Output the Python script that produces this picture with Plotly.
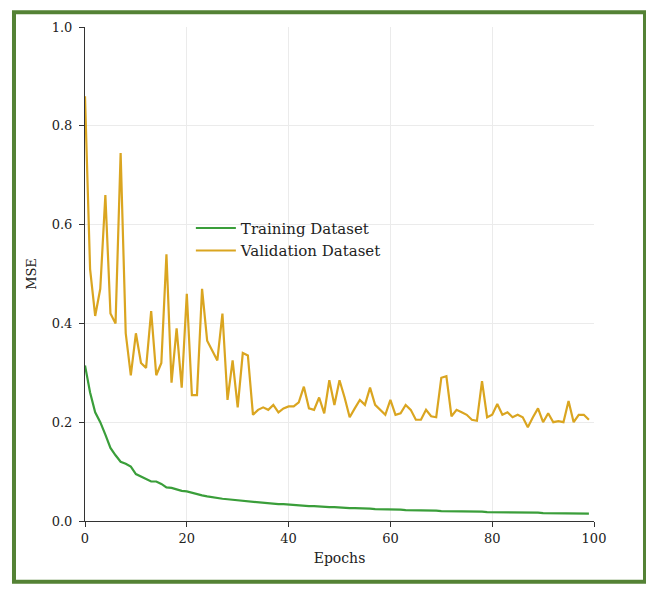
import plotly.graph_objects as go

epochs = list(range(100))
train_mse = [0.315, 0.26, 0.22, 0.2, 0.175, 0.148, 0.133, 0.12, 0.116, 0.11,
             0.095, 0.09, 0.086, 0.08, 0.08, 0.075, 0.068, 0.067, 0.064, 0.061,
             0.06, 0.057, 0.055, 0.052, 0.05, 0.048, 0.047, 0.045, 0.044, 0.043,
             0.042, 0.04, 0.039, 0.038, 0.037, 0.037, 0.036, 0.035, 0.034, 0.034,
             0.033, 0.032, 0.031, 0.031, 0.030, 0.030, 0.029, 0.029, 0.028, 0.028,
             0.027, 0.027, 0.026, 0.026, 0.026, 0.025, 0.025, 0.024, 0.024, 0.024,
             0.023, 0.023, 0.023, 0.022, 0.022, 0.022, 0.021, 0.021, 0.021, 0.021,
             0.020, 0.020, 0.020, 0.020, 0.019, 0.019, 0.019, 0.019, 0.019, 0.018,
             0.018, 0.018, 0.018, 0.018, 0.017, 0.017, 0.017, 0.017, 0.017, 0.017,
             0.016, 0.016, 0.016, 0.016, 0.016, 0.016, 0.016, 0.015, 0.015, 0.015]
val_mse = [0.86, 0.51, 0.415, 0.47, 0.66, 0.42, 0.40, 0.745, 0.38, 0.295,
           0.38, 0.32, 0.31, 0.425, 0.295, 0.32, 0.54, 0.28, 0.39, 0.27,
           0.46, 0.255, 0.255, 0.47, 0.365, 0.345, 0.325, 0.42, 0.245, 0.325,
           0.23, 0.34, 0.335, 0.215, 0.225, 0.23, 0.225, 0.235, 0.22, 0.228,
           0.232, 0.232, 0.24, 0.272, 0.228, 0.225, 0.25, 0.218, 0.285, 0.235,
           0.285, 0.25, 0.21, 0.228, 0.245, 0.235, 0.27, 0.235, 0.225, 0.215,
           0.245, 0.215, 0.218, 0.235, 0.225, 0.205, 0.205, 0.225, 0.212, 0.21,
           0.29, 0.293, 0.212, 0.225, 0.22, 0.215, 0.205, 0.203, 0.283, 0.21,
           0.215, 0.237, 0.215, 0.22, 0.21, 0.215, 0.21, 0.19, 0.21, 0.228,
           0.2, 0.218, 0.2, 0.202, 0.2, 0.243, 0.2, 0.215, 0.215, 0.205]

FONT = "DejaVu Serif"
TXT = "#222222"

fig = go.Figure()
fig.add_trace(go.Scatter(x=epochs, y=train_mse, mode="lines", name="Training Dataset",
                         line=dict(color="#3a9e3a", width=2.2)))
fig.add_trace(go.Scatter(x=epochs, y=val_mse, mode="lines", name="Validation Dataset",
                         line=dict(color="#DAA520", width=2.2)))

fig.update_layout(
    width=646, height=581,
    margin=dict(l=77, r=60, t=17, b=68),
    paper_bgcolor="white", plot_bgcolor="white",
    font=dict(family=FONT, size=13, color=TXT),
    showlegend=True,
    legend=dict(x=0.208, y=0.626, xanchor="left", yanchor="top",
                bgcolor="rgba(0,0,0,0)", font=dict(family=FONT, size=15, color=TXT),
                itemwidth=40, tracegroupgap=0),
    xaxis=dict(range=[0, 100], tickvals=[0, 20, 40, 60, 80, 100],
               title=dict(text="Epochs", font=dict(family=FONT, size=14, color=TXT), standoff=8),
               showline=True, linecolor="#333333", linewidth=1,
               ticks="outside", ticklen=5, tickcolor="#333333",
               tickfont=dict(family=FONT, size=13, color=TXT),
               showgrid=True, gridcolor="#ebebeb", zeroline=False),
    yaxis=dict(range=[0, 1.0], tickvals=[0, 0.2, 0.4, 0.6, 0.8, 1.0],
               ticktext=["0.0", "0.2", "0.4", "0.6", "0.8", "1.0"],
               title=dict(text="MSE", font=dict(family=FONT, size=13, color=TXT), standoff=12),
               showline=True, linecolor="#333333", linewidth=1,
               ticks="outside", ticklen=5, tickcolor="#333333",
               tickfont=dict(family=FONT, size=13, color=TXT),
               ticklabelstandoff=4,
               showgrid=True, gridcolor="#ebebeb", zeroline=False),
    shapes=[dict(type="rect", xref="paper", yref="paper",
                 x0=-0.1395, x1=1.1002, y0=-0.123, y1=1.030,
                 line=dict(color="#548235", width=4), fillcolor="rgba(0,0,0,0)", layer="above")],
)

fig.write_html("out.html")
